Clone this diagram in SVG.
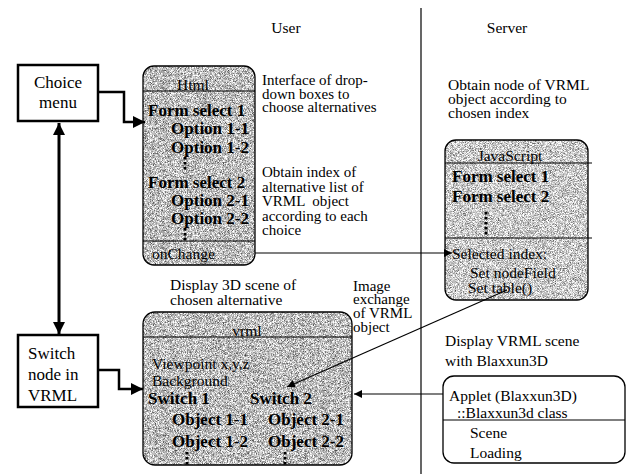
<svg xmlns="http://www.w3.org/2000/svg" width="628" height="474" viewBox="0 0 628 474">
<style>
text{font-family:"Liberation Serif","Times New Roman",serif;fill:#000}
.t{font-size:15.5px}
.n{font-size:15px}
.b{font-size:17px;font-weight:bold}
.lbl{font-size:17px}
.box{fill:none;stroke:#000;stroke-width:1.3}
.thick{fill:#fff;stroke:#000;stroke-width:2.5}
.sep{stroke:#000;stroke-width:1.2}
.dots{stroke:#000;stroke-width:3;stroke-dasharray:2.5 2.5}
.c{fill:none;stroke:#000}
</style>
<defs>
<filter id="g1" x="0" y="0" width="1" height="1" color-interpolation-filters="sRGB">
<feTurbulence type="fractalNoise" baseFrequency="1.6" numOctaves="1" seed="4" result="n"/>
<feColorMatrix in="n" type="matrix" values="1.6 0 0 0 -0.06  1.6 0 0 0 -0.06  1.6 0 0 0 -0.06  0 0 0 0 1" result="m"/>
<feComposite in="m" in2="SourceGraphic" operator="in"/>
</filter>
<filter id="g2" x="0" y="0" width="1" height="1" color-interpolation-filters="sRGB">
<feTurbulence type="fractalNoise" baseFrequency="1.6" numOctaves="1" seed="9" result="n"/>
<feColorMatrix in="n" type="matrix" values="1.5 0 0 0 0.04  1.5 0 0 0 0.04  1.5 0 0 0 0.04  0 0 0 0 1" result="m"/>
<feComposite in="m" in2="SourceGraphic" operator="in"/>
</filter>
<marker id="ah" viewBox="0 0 10 10" refX="10" refY="5" markerWidth="9" markerHeight="8" markerUnits="userSpaceOnUse" orient="auto">
<path d="M0,0 L10,5 L0,10 z" fill="#000"/>
</marker>
<marker id="ahB" viewBox="0 0 10 10" refX="10" refY="5" markerWidth="13" markerHeight="12" markerUnits="userSpaceOnUse" orient="auto-start-reverse">
<path d="M0,0 L10,5 L0,10 z" fill="#000"/>
</marker>
</defs>

<rect width="628" height="474" fill="#fff"/>

<g id="headers">
<text class="t" x="286" y="33" text-anchor="middle">User</text>
<text class="t" x="507" y="33" text-anchor="middle">Server</text>
<line x1="421" y1="8" x2="421" y2="474" stroke="#000" stroke-width="1.2"/>
</g>

<g id="notes">
<text class="n" x="262" y="85">Interface of drop-</text>
<text class="n" x="262" y="98.5">down boxes to</text>
<text class="n" x="262" y="112">choose alternatives</text>
<text class="n" x="262" y="177">Obtain index of</text>
<text class="n" x="262" y="191.5">alternative list of</text>
<text class="n" x="262" y="206" xml:space="preserve">VRML  object</text>
<text class="n" x="262" y="220.5">according to each</text>
<text class="n" x="262" y="235">choice</text>
<text class="t" x="170" y="290">Display 3D scene of</text>
<text class="t" x="170" y="305">chosen alternative</text>
<text class="t" x="448" y="90">Obtain node of VRML</text>
<text class="t" x="448" y="104">object according to</text>
<text class="t" x="448" y="118">chosen index</text>
<text class="n" x="353" y="291">Image</text>
<text class="n" x="353" y="304">exchange</text>
<text class="n" x="353" y="318">of VRML</text>
<text class="n" x="353" y="332">object</text>
<text class="t" x="445" y="346">Display VRML scene</text>
<text class="t" x="445" y="366">with Blaxxun3D</text>
</g>

<g id="choice-menu">
<rect class="thick" x="18" y="65" width="80" height="56"/>
<text class="lbl" x="58" y="88" text-anchor="middle">Choice</text>
<text class="lbl" x="58" y="108" text-anchor="middle">menu</text>
</g>

<g id="switch-node">
<rect class="thick" x="18" y="335" width="80" height="72"/>
<text class="lbl" x="28" y="359">Switch</text>
<text class="lbl" x="28" y="380">node in</text>
<text class="lbl" x="28" y="401">VRML</text>
</g>

<g id="html">
<rect x="143" y="66" width="112" height="199" rx="11" fill="#fff" filter="url(#g1)"/>
<rect class="box" x="143" y="66" width="112" height="199" rx="11"/>
<line class="sep" x1="143" y1="91" x2="255" y2="91"/>
<line class="sep" x1="143" y1="241" x2="255" y2="241"/>
<text class="t" x="193" y="90" text-anchor="middle">Html</text>
<text class="b" x="148" y="116">Form select 1</text>
<text class="b" x="249" y="134" text-anchor="end">Option 1-1</text>
<text class="b" x="249" y="153" text-anchor="end">Option 1-2</text>
<line class="dots" x1="185" y1="157" x2="185" y2="172"/>
<text class="b" x="148" y="188">Form select 2</text>
<text class="b" x="249" y="206" text-anchor="end">Option 2-1</text>
<text class="b" x="249" y="224" text-anchor="end">Option 2-2</text>
<line class="dots" x1="185" y1="228" x2="185" y2="241"/>
<text class="t" x="152" y="259">onChange</text>
</g>

<g id="javascript">
<rect x="445" y="140" width="143" height="160" rx="11" fill="#fff" filter="url(#g2)"/>
<rect class="box" x="445" y="140" width="143" height="160" rx="11"/>
<line class="sep" x1="445" y1="163" x2="592" y2="163"/>
<line class="sep" x1="445" y1="238" x2="592" y2="238"/>
<text class="t" x="510" y="161" text-anchor="middle">JavaScript</text>
<text class="b" x="452" y="182">Form select 1</text>
<text class="b" x="452" y="202">Form select 2</text>
<line class="dots" x1="486" y1="212" x2="486" y2="235"/>
<text class="t" x="452" y="259">Selected index:</text>
<text class="t" x="470" y="278">Set nodeField</text>
<text class="t" x="468" y="293">Set table()</text>
</g>

<g id="vrml">
<rect x="143" y="312" width="209" height="153" rx="12" fill="#fff" filter="url(#g1)"/>
<rect class="box" x="143" y="312" width="209" height="153" rx="12"/>
<line class="sep" x1="143" y1="337" x2="352" y2="337"/>
<text class="t" x="247" y="336" text-anchor="middle">vrml</text>
<text class="t" x="152" y="369">Viewpoint x,y,z</text>
<text class="t" x="152" y="386">Background</text>
<text class="b" x="148" y="404">Switch 1</text>
<text class="b" x="250" y="404">Switch 2</text>
<text class="b" x="172" y="425">Object 1-1</text>
<text class="b" x="268" y="425">Object 2-1</text>
<text class="b" x="172" y="447">Object 1-2</text>
<text class="b" x="268" y="447">Object 2-2</text>
<line class="dots" x1="187" y1="452" x2="187" y2="466"/>
<line class="dots" x1="285" y1="452" x2="285" y2="466"/>
</g>

<g id="applet">
<rect x="443" y="376" width="182" height="87" rx="11" fill="#fff" stroke="#000" stroke-width="1.3"/>
<line class="sep" x1="443" y1="420" x2="625" y2="420"/>
<text class="t" x="449" y="401">Applet (Blaxxun3D)</text>
<text class="t" x="457" y="418">::Blaxxun3d class</text>
<text class="t" x="470" y="438">Scene</text>
<text class="t" x="470" y="458">Loading</text>
</g>

<g id="connectors">
<polyline class="c" stroke-width="2.5" points="98,92 124,92 124,122 145,122" marker-end="url(#ahB)"/>
<polyline class="c" stroke-width="2.5" points="98,370 119,370 119,389 143,389" marker-end="url(#ahB)"/>
<line class="c" stroke-width="3" x1="59" y1="123" x2="59" y2="334" marker-start="url(#ahB)" marker-end="url(#ahB)"/>
<line class="c" stroke-width="1.2" x1="255" y1="253" x2="452" y2="253" marker-end="url(#ah)"/>
<line class="c" stroke-width="1.2" x1="507" y1="290" x2="287" y2="387" marker-end="url(#ah)"/>
<line class="c" stroke-width="1.2" x1="443" y1="394" x2="354" y2="394" marker-end="url(#ah)"/>
</g>
</svg>
